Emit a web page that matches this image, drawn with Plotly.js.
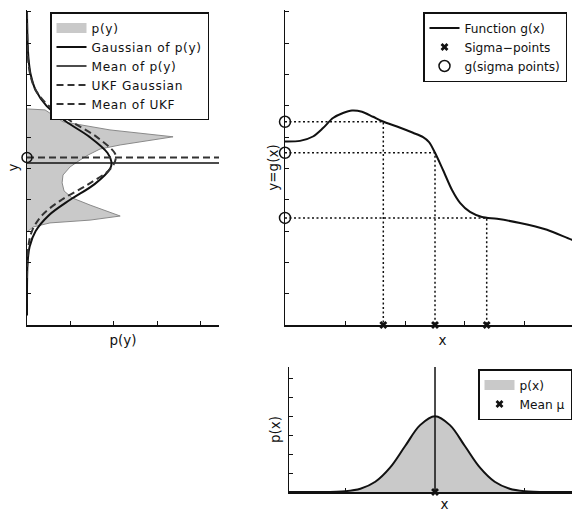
<!DOCTYPE html>
<html><head><meta charset="utf-8">
<script src="https://cdn.plot.ly/plotly-3.0.1.min.js"></script>
<style>html,body{margin:0;padding:0;overflow:hidden;background:#fff;width:572px;height:512px}#plot{width:600px;height:512px}.legendtext{letter-spacing:0.65px}</style>
</head><body><div id="plot"></div>
<script>
// ---- top-right: function g(x) ----
const gX = [-2.513, -2.261, -2.044, -1.876, -1.709, -1.541, -1.39, -1.223, -1.039, -0.871, -0.637, -0.369, -0.2, -0.1, 0, 0.134, 0.285, 0.419, 0.586, 0.787, 1.039, 1.424, 1.876, 2.295, 2.764];
const gY = [5.86, 5.88, 6.02, 6.29, 6.61, 6.77, 6.85, 6.81, 6.65, 6.50, 6.34, 6.14, 6.0, 5.84, 5.50, 4.95, 4.31, 3.90, 3.61, 3.45, 3.39, 3.26, 3.04, 2.72, 2.40];
const sigmaX = [-0.866, 0, 0.866];
const sigmaG = [6.49, 5.50, 3.42];

// ---- left: p(y) (rotated) ----
const pyY   = [6.90, 6.87, 6.49, 6.23, 6.01, 5.75, 5.62, 5.43, 5.27, 5.05, 4.79, 4.54, 4.28, 4.06, 3.83, 3.48, 3.35, 3.26, 3.13, 2.97];
const pyDen = [0.0, 0.083, 0.166, 0.383, 0.674, 0.43, 0.337, 0.282, 0.245, 0.199, 0.166, 0.162, 0.171, 0.208, 0.291, 0.43, 0.291, 0.106, 0.028, 0.0];
const gaussY   = [0.3, 1.5, 2.0, 2.5, 3.0, 3.5, 4.0, 4.5, 5.0, 5.2, 5.5, 6.0, 6.5, 7.0, 7.5, 8.0, 8.5, 9.0, 9.5, 10.0];
const gaussDen = [0.0, 0.0006, 0.003, 0.012, 0.040, 0.100, 0.199, 0.312, 0.384, 0.390, 0.371, 0.290, 0.180, 0.090, 0.040, 0.017, 0.007, 0.003, 0.001, 0.0];
const ukfY   = [1.5, 2.0, 2.5, 3.0, 3.5, 4.0, 4.5, 5.0, 5.33, 5.5, 6.0, 6.5, 7.0, 7.5, 8.0, 8.5, 9.0, 9.5, 10.0];
const ukfDen = [0.0, 0.0011, 0.006, 0.023, 0.069, 0.160, 0.284, 0.387, 0.410, 0.404, 0.323, 0.205, 0.100, 0.040, 0.015, 0.005, 0.002, 0.0005, 0.0];
const meanPy = 5.17;
const meanUkf = 5.35;

// ---- bottom: p(x) ----
const pxX   = [-2.446, -2.0, -1.5, -1.25, -1.0, -0.75, -0.5, -0.25, 0, 0.25, 0.5, 0.75, 1.0, 1.25, 1.5, 2.0, 2.764];
const pxDen = [0.0, 0.0003, 0.009, 0.035, 0.108, 0.259, 0.484, 0.704, 0.798, 0.704, 0.484, 0.259, 0.108, 0.035, 0.009, 0.0003, 0.0];
const meanX = 0;

// tick values
const yTicks = [1, 2, 3, 4, 5, 6, 7, 8, 9, 10];
const denTicks = [0.2, 0.4, 0.6, 0.8];
const xTicks = [-1.5, -0.5, 0.5, 1.5];
const pxTicks = [0.2, 0.4, 0.6, 0.8, 1.0, 1.2];

// axis ranges
const yRange = [0, 10.06];
const denRange = [0, 0.886];
const xRange2 = [-2.513, 2.764];
const xRange3 = [-2.446, 2.764];
const pxRange = [0, 1.316];

const W = 600, H = 512;
const px = v => v / W, py = v => 1 - v / H;
const BLACK = '#111';
const GREY = '#c9c9c9';

// dotted guide lines built from sigma points
const dotX = [], dotY = [];
sigmaX.forEach((s, i) => { dotX.push(xRange2[0], s, s, null); dotY.push(sigmaG[i], sigmaG[i], 0, null); });

const traces = [
  // left panel
  {x: [null], y: [null], mode: 'lines', name: 'p(y)', line: {color: GREY, width: 12}, xaxis: 'x', yaxis: 'y', legend: 'legend', hoverinfo: 'skip'},
  {x: pyDen, y: pyY, mode: 'lines', fill: 'toself', fillcolor: GREY, line: {color: '#8a8a8a', width: 1}, showlegend: false, xaxis: 'x', yaxis: 'y'},
  {x: gaussDen, y: gaussY, mode: 'lines', name: 'Gaussian of p(y)', line: {color: BLACK, width: 2, shape: 'spline'}, xaxis: 'x', yaxis: 'y', legend: 'legend'},
  {x: [denRange[0], denRange[1]], y: [meanPy, meanPy], mode: 'lines', name: 'Mean of p(y)', line: {color: BLACK, width: 1.5}, xaxis: 'x', yaxis: 'y', legend: 'legend'},
  {x: ukfDen, y: ukfY, mode: 'lines', name: 'UKF Gaussian', line: {color: '#333', width: 2, dash: '7px,4px', shape: 'spline'}, xaxis: 'x', yaxis: 'y', legend: 'legend'},
  {x: [denRange[0], denRange[1]], y: [meanUkf, meanUkf], mode: 'lines', name: 'Mean of UKF', line: {color: '#333', width: 2, dash: '7px,4px'}, xaxis: 'x', yaxis: 'y', legend: 'legend'},
  {x: [denRange[0]], y: [meanUkf], mode: 'markers', marker: {symbol: 'circle-open', size: 10, color: BLACK, line: {width: 1.5}}, showlegend: false, cliponaxis: false, xaxis: 'x', yaxis: 'y'},
  // top-right panel
  {x: gX, y: gY, mode: 'lines', name: 'Function g(x)', line: {color: BLACK, width: 2, shape: 'spline', smoothing: 0.8}, xaxis: 'x2', yaxis: 'y2', legend: 'legend2'},
  {x: dotX, y: dotY, mode: 'lines', line: {color: BLACK, width: 1.5, dash: '2px,2.5px'}, showlegend: false, xaxis: 'x2', yaxis: 'y2'},
  {x: sigmaX, y: sigmaX.map(() => yRange[0]), mode: 'markers', name: 'Sigma\u2212points', marker: {symbol: 'x', size: 7, color: BLACK}, cliponaxis: false, xaxis: 'x2', yaxis: 'y2', legend: 'legend2'},
  {x: sigmaX.map(() => xRange2[0]), y: sigmaG, mode: 'markers', name: 'g(sigma points)', marker: {symbol: 'circle-open', size: 11, color: BLACK, line: {width: 1.5}}, cliponaxis: false, xaxis: 'x2', yaxis: 'y2', legend: 'legend2'},
  // bottom panel
  {x: [null], y: [null], mode: 'lines', name: 'p(x)', line: {color: GREY, width: 12}, xaxis: 'x3', yaxis: 'y3', legend: 'legend3', hoverinfo: 'skip'},
  {x: pxX, y: pxDen, mode: 'lines', fill: 'tozeroy', fillcolor: GREY, line: {color: GREY, width: 0, shape: 'spline'}, showlegend: false, xaxis: 'x3', yaxis: 'y3'},
  {x: pxX, y: pxDen, mode: 'lines', line: {color: BLACK, width: 2, shape: 'spline'}, showlegend: false, xaxis: 'x3', yaxis: 'y3'},
  {x: [meanX, meanX], y: [pxRange[0], pxRange[1]], mode: 'lines', line: {color: BLACK, width: 1.5}, showlegend: false, xaxis: 'x3', yaxis: 'y3'},
  {x: [meanX], y: [pxRange[0]], mode: 'markers', name: 'Mean \u03bc', marker: {symbol: 'x', size: 7, color: BLACK}, cliponaxis: false, xaxis: 'x3', yaxis: 'y3', legend: 'legend3'}
];

const axBase = {showline: true, linecolor: BLACK, linewidth: 1.5, ticks: 'inside', ticklen: 4, tickwidth: 1, tickcolor: BLACK,
  showticklabels: false, showgrid: false, zeroline: false, mirror: false, fixedrange: true};
const titleFont = {family: 'DejaVu Sans', size: 13.5, color: BLACK};
const legBase = {xanchor: 'left', yanchor: 'top', bgcolor: '#fff', bordercolor: BLACK, borderwidth: 1.5,
  font: {family: 'DejaVu Sans', size: 12.2, color: BLACK}, itemwidth: 30, tracegroupgap: 0, traceorder: 'normal'};

const layout = {
  width: W, height: H, margin: {l: 0, r: 0, t: 0, b: 0, pad: 0},
  paper_bgcolor: '#fff', plot_bgcolor: '#fff', showlegend: true,
  font: {family: 'DejaVu Sans', size: 13.5, color: BLACK},
  xaxis: Object.assign({}, axBase, {domain: [px(27), px(219)], range: denRange, tickvals: denTicks, anchor: 'y',
    title: {text: 'p(y)', font: titleFont, standoff: 10}}),
  yaxis: Object.assign({}, axBase, {domain: [py(325), py(10)], range: yRange, tickvals: yTicks, anchor: 'x',
    title: {text: 'y', font: titleFont, standoff: 4}}),
  xaxis2: Object.assign({}, axBase, {domain: [px(285), 1], range: xRange2, tickvals: xTicks, anchor: 'y2',
    title: {text: 'x', font: titleFont, standoff: 10}}),
  yaxis2: Object.assign({}, axBase, {domain: [py(325), py(10)], range: yRange, tickvals: yTicks, anchor: 'x2',
    title: {text: 'y=g(x)', font: titleFont, standoff: 2}}),
  xaxis3: Object.assign({}, axBase, {domain: [px(289), 1], range: xRange3, tickvals: xTicks, anchor: 'y3', layer: 'below traces',
    title: {text: 'x', font: titleFont, standoff: 8}}),
  yaxis3: Object.assign({}, axBase, {domain: [py(492), py(367)], range: pxRange, tickvals: pxTicks, anchor: 'x3',
    title: {text: 'p(x)', font: titleFont, standoff: 4}}),
  legend: Object.assign({}, legBase, {x: px(50), y: py(12)}),
  legend2: Object.assign({}, legBase, {x: px(423), y: py(12)}),
  legend3: Object.assign({}, legBase, {x: px(478), y: py(369)})
};

Plotly.newPlot('plot', traces, layout, {displayModeBar: false, staticPlot: true});
</script>
</body></html>
